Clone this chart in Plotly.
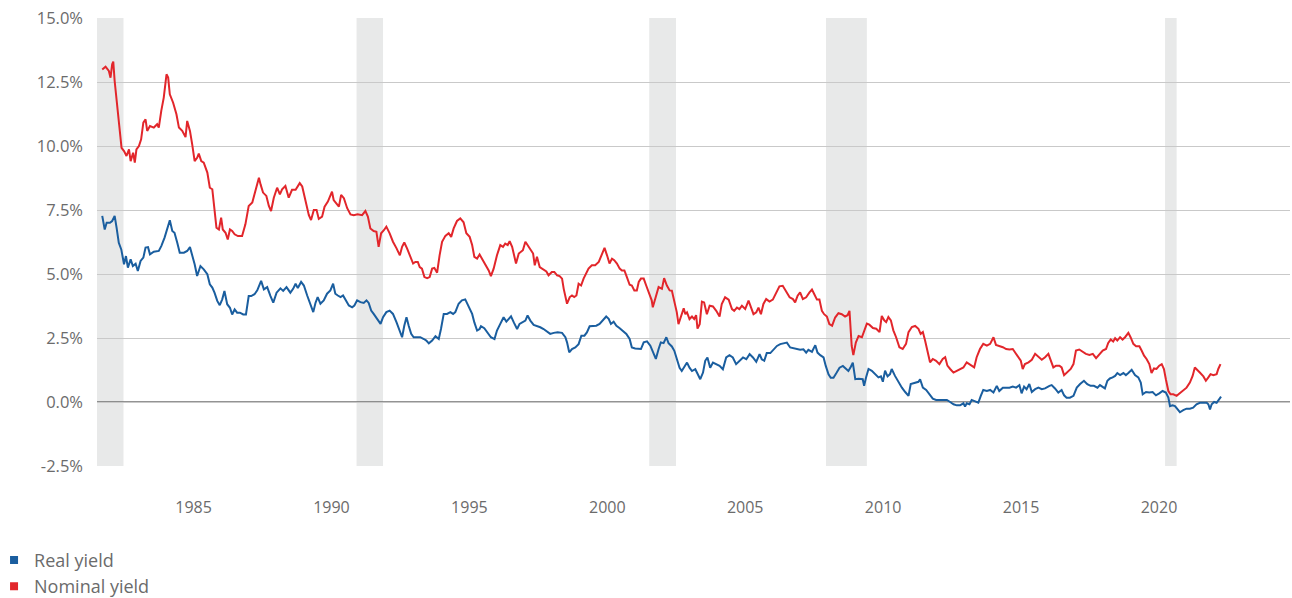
import plotly.graph_objects as go

# ---------------- data (decimal years, % yields) ----------------
real_years = [
    1981.69, 1981.78, 1981.85, 1981.97, 1982.05, 1982.14, 1982.21, 1982.29, 1982.38, 1982.48,
    1982.55, 1982.62, 1982.72, 1982.80, 1982.90, 1982.98, 1983.08, 1983.18, 1983.26, 1983.35,
    1983.42, 1983.56, 1983.74, 1983.83, 1983.95, 1984.05, 1984.14, 1984.23, 1984.31, 1984.41,
    1984.50, 1984.65, 1984.77, 1984.87, 1984.95, 1985.04, 1985.13, 1985.25, 1985.37, 1985.50,
    1985.59, 1985.68, 1985.76, 1985.86, 1985.95, 1986.04, 1986.12, 1986.22, 1986.32, 1986.40,
    1986.49, 1986.58, 1986.68, 1986.80, 1986.90, 1987.00, 1987.09, 1987.21, 1987.31, 1987.45,
    1987.55, 1987.67, 1987.79, 1987.89, 1988.01, 1988.15, 1988.25, 1988.37, 1988.51,
    1988.61, 1988.70, 1988.78, 1988.90, 1989.00, 1989.12, 1989.24, 1989.34, 1989.42, 1989.50,
    1989.60, 1989.72, 1989.84, 1989.96, 1990.06, 1990.14, 1990.23, 1990.33, 1990.42, 1990.51,
    1990.63, 1990.75, 1990.83, 1990.93, 1991.05, 1991.17, 1991.27, 1991.35, 1991.44, 1991.53,
    1991.65, 1991.78, 1991.87, 1991.99, 1992.11, 1992.23, 1992.36, 1992.48, 1992.56, 1992.64,
    1992.72, 1992.80, 1992.89, 1992.98, 1993.10, 1993.22, 1993.35, 1993.44, 1993.53, 1993.65,
    1993.77, 1993.89, 1993.97, 1994.07, 1994.19, 1994.31, 1994.41, 1994.49, 1994.61, 1994.73,
    1994.85, 1994.98, 1995.10, 1995.18, 1995.28, 1995.37,
    1995.42, 1995.54, 1995.66, 1995.78, 1995.91, 1996.00, 1996.12, 1996.24, 1996.34, 1996.42,
    1996.51, 1996.61, 1996.73, 1996.82, 1996.94, 1997.03, 1997.11, 1997.21, 1997.33, 1997.45,
    1997.57, 1997.69, 1997.81, 1997.93, 1998.06, 1998.20, 1998.36, 1998.48, 1998.54, 1998.62,
    1998.72, 1998.84, 1998.96, 1999.06, 1999.17, 1999.26, 1999.36, 1999.48, 1999.60, 1999.72,
    1999.84, 1999.96, 2000.05, 2000.13, 2000.23, 2000.33, 2000.45, 2000.57, 2000.69, 2000.81,
    2000.89, 2001.01, 2001.13, 2001.22, 2001.32, 2001.44, 2001.56, 2001.68, 2001.76, 2001.86,
    2001.94, 2002.04, 2002.14, 2002.22,
    2002.34, 2002.43, 2002.52, 2002.62, 2002.70, 2002.79, 2002.89, 2002.98, 2003.07, 2003.19,
    2003.27, 2003.37, 2003.47, 2003.55, 2003.63, 2003.73, 2003.83, 2003.95, 2004.07, 2004.19,
    2004.31, 2004.43, 2004.55, 2004.67, 2004.79, 2004.92, 2005.04, 2005.16, 2005.28, 2005.40,
    2005.52, 2005.60, 2005.69, 2005.78, 2005.91, 2006.03, 2006.15, 2006.27, 2006.39, 2006.51,
    2006.63, 2006.75, 2006.87, 2006.99, 2007.11, 2007.21, 2007.29, 2007.42, 2007.54, 2007.62,
    2007.72, 2007.84, 2007.92, 2008.02, 2008.10, 2008.20, 2008.30, 2008.42, 2008.54, 2008.66,
    2008.74, 2008.83, 2008.90, 2008.99, 2009.11,
    2009.26, 2009.31, 2009.38, 2009.47, 2009.59, 2009.71, 2009.83, 2009.92, 2009.99, 2010.07,
    2010.16, 2010.25, 2010.31, 2010.43, 2010.56, 2010.68, 2010.80, 2010.92, 2011.00, 2011.16,
    2011.28, 2011.34, 2011.44, 2011.56, 2011.68, 2011.80, 2011.92, 2012.04, 2012.19, 2012.31,
    2012.43, 2012.55, 2012.67, 2012.79, 2012.91, 2012.97, 2013.03, 2013.13, 2013.21, 2013.33,
    2013.45, 2013.54, 2013.63, 2013.76, 2013.88, 2014.00, 2014.12, 2014.21, 2014.34, 2014.46,
    2014.58, 2014.70, 2014.82, 2014.94, 2015.02, 2015.11, 2015.20, 2015.30, 2015.39, 2015.51,
    2015.63, 2015.75, 2015.87, 2016.03,
    2016.11, 2016.23, 2016.35, 2016.47, 2016.56, 2016.65, 2016.77, 2016.90, 2017.02, 2017.14,
    2017.28, 2017.40, 2017.52, 2017.64, 2017.77, 2017.86, 2017.96, 2018.04, 2018.13, 2018.22,
    2018.32, 2018.41, 2018.49, 2018.59, 2018.71, 2018.80, 2018.89, 2019.01, 2019.13, 2019.25,
    2019.34, 2019.41, 2019.53, 2019.65, 2019.77, 2019.89, 2020.01, 2020.13, 2020.25, 2020.34,
    2020.40, 2020.49, 2020.58, 2020.66, 2020.76, 2020.88, 2021.00, 2021.12, 2021.24, 2021.36,
    2021.48, 2021.61, 2021.73, 2021.79, 2021.85, 2021.91, 2022.00, 2022.09, 2022.17, 2022.25,
]
real_yield = [
    7.27, 6.74, 7.00, 7.00, 7.07, 7.27, 6.81, 6.22, 5.96, 5.38,
    5.70, 5.25, 5.57, 5.31, 5.40, 5.12, 5.51, 5.64, 6.03, 6.05,
    5.77, 5.87, 5.90, 6.09, 6.42, 6.81, 7.10, 6.68, 6.61, 6.22,
    5.83, 5.83, 5.90, 6.05, 5.77, 5.38, 4.92, 5.31, 5.18, 4.99,
    4.60, 4.47, 4.27, 3.95, 3.78, 4.01, 4.34, 3.82, 3.68, 3.42,
    3.62, 3.49, 3.49, 3.42, 3.42, 4.14, 4.14, 4.21, 4.36, 4.73,
    4.40, 4.49, 4.14, 3.88, 4.27, 4.44, 4.34, 4.49, 4.27,
    4.42, 4.62, 4.45, 4.69, 4.55, 4.16, 3.77, 3.51, 3.87, 4.10,
    3.84, 3.97, 4.23, 4.36, 4.62, 4.23, 4.16, 4.10, 4.16, 3.97,
    3.77, 3.70, 3.77, 3.97, 3.90, 3.87, 3.97, 3.87, 3.57, 3.44,
    3.25, 3.05, 3.31, 3.51, 3.57, 3.44, 3.11, 2.79, 2.53, 2.98,
    3.31, 2.98, 2.66, 2.53, 2.53, 2.53, 2.46, 2.40, 2.29, 2.40,
    2.57, 2.46, 2.85, 3.44, 3.44, 3.51, 3.44, 3.51, 3.84, 3.97,
    4.01, 3.71, 3.44, 3.11, 2.79, 2.85,
    2.96, 2.88, 2.72, 2.53, 2.46, 2.79, 3.05, 3.31, 3.14, 3.25,
    3.35, 3.11, 2.85, 3.05, 3.11, 3.18, 3.38, 3.18, 3.01, 2.98,
    2.92, 2.85, 2.75, 2.66, 2.70, 2.72, 2.70, 2.53, 2.33, 1.94,
    2.07, 2.13, 2.26, 2.59, 2.59, 2.72, 2.96, 2.98, 2.98, 3.05,
    3.18, 3.34, 3.25, 3.05, 3.14, 2.98, 2.88, 2.75, 2.66, 2.46,
    2.13, 2.09, 2.09, 2.07, 2.33, 2.37, 2.20, 1.87, 1.68, 2.07,
    2.33, 2.30, 2.53, 2.30,
    2.17, 2.00, 1.67, 1.34, 1.21, 1.38, 1.54, 1.34, 1.21, 1.28,
    1.08, 0.89, 1.15, 1.61, 1.74, 1.34, 1.54, 1.48, 1.41, 1.28,
    1.74, 1.83, 1.74, 1.48, 1.61, 1.74, 1.67, 1.87, 1.74, 1.57,
    1.87, 1.67, 1.61, 1.91, 1.91, 2.04, 2.19, 2.26, 2.30, 2.32,
    2.13, 2.09, 2.06, 2.04, 2.06, 1.93, 2.04, 1.96, 2.22, 1.93,
    1.83, 1.74, 1.41, 1.08, 0.95, 0.95, 1.12, 1.34, 1.41, 1.31,
    1.21, 1.38, 1.54, 0.89, 0.91,
    0.89, 0.63, 0.96, 1.29, 1.22, 1.09, 0.96, 1.00, 0.79, 1.22,
    1.00, 1.09, 1.29, 1.02, 0.76, 0.56, 0.39, 0.24, 0.70, 0.76,
    0.79, 0.89, 0.56, 0.47, 0.30, 0.13, 0.08, 0.08, 0.10, 0.08,
    0.00, -0.09, -0.13, -0.13, -0.05, -0.18, -0.05, -0.09, 0.08, 0.04,
    -0.03, 0.24, 0.47, 0.43, 0.47, 0.37, 0.63, 0.43, 0.56, 0.56,
    0.56, 0.60, 0.56, 0.66, 0.34, 0.60, 0.50, 0.70, 0.39, 0.50,
    0.56, 0.50, 0.53, 0.63,
    0.66, 0.53, 0.37, 0.47, 0.26, 0.17, 0.17, 0.24, 0.56, 0.70,
    0.83, 0.70, 0.63, 0.63, 0.56, 0.66, 0.60, 0.53, 0.83, 0.92,
    0.96, 1.02, 1.13, 1.05, 1.13, 1.05, 1.13, 1.26, 1.05, 0.96,
    0.76, 0.30, 0.39, 0.37, 0.39, 0.26, 0.34, 0.43, 0.37, 0.17,
    -0.16, -0.13, -0.16, -0.29, -0.40, -0.32, -0.26, -0.26, -0.22, -0.09,
    -0.03, -0.03, -0.03, -0.09, -0.29, -0.09, 0.00, -0.03, 0.10, 0.21,
]

nominal_years = [
    1981.69, 1981.81, 1981.93, 1981.99, 1982.05, 1982.09, 1982.14, 1982.23, 1982.33, 1982.39,
    1982.48, 1982.57, 1982.66, 1982.72, 1982.81, 1982.87, 1982.93, 1983.02, 1983.10, 1983.18,
    1983.26, 1983.32, 1983.42, 1983.56, 1983.68, 1983.74, 1983.83, 1983.92, 1984.02, 1984.08,
    1984.14, 1984.26, 1984.38, 1984.47, 1984.59, 1984.71, 1984.77, 1984.87, 1984.95, 1985.04,
    1985.13, 1985.19, 1985.28, 1985.37, 1985.50, 1985.59, 1985.68, 1985.74, 1985.83, 1985.92,
    1986.00, 1986.06, 1986.16, 1986.24, 1986.32, 1986.40, 1986.49, 1986.61, 1986.76, 1986.88,
    1987.00, 1987.13, 1987.25, 1987.37, 1987.43, 1987.52, 1987.64, 1987.73, 1987.81, 1987.91,
    1988.03, 1988.13, 1988.21, 1988.33, 1988.45,
    1988.57, 1988.70, 1988.76, 1988.85, 1988.94, 1989.06, 1989.18, 1989.26, 1989.36, 1989.46,
    1989.54, 1989.66, 1989.75, 1989.87, 1989.96, 1990.02, 1990.08, 1990.18, 1990.27, 1990.35,
    1990.45, 1990.57, 1990.69, 1990.81, 1990.95, 1991.11, 1991.23, 1991.32, 1991.41, 1991.53,
    1991.63, 1991.71, 1991.80, 1991.90, 1991.99, 1992.11, 1992.23, 1992.36, 1992.48, 1992.56,
    1992.64, 1992.74, 1992.86, 1992.96, 1993.04, 1993.13, 1993.20, 1993.28, 1993.37, 1993.47,
    1993.56, 1993.65, 1993.73, 1993.83, 1993.92, 1994.01, 1994.13, 1994.25, 1994.34, 1994.43,
    1994.55, 1994.67, 1994.79, 1994.89, 1995.01, 1995.10, 1995.18, 1995.28, 1995.37,
    1995.46, 1995.58, 1995.70, 1995.78, 1995.88, 1996.00, 1996.12, 1996.22, 1996.30, 1996.39,
    1996.46, 1996.55, 1996.63, 1996.69, 1996.79, 1996.87, 1996.94, 1997.03, 1997.11, 1997.21,
    1997.31, 1997.37, 1997.45, 1997.55, 1997.67, 1997.79, 1997.87, 1997.99, 1998.08, 1998.18,
    1998.27, 1998.36, 1998.42, 1998.48, 1998.54, 1998.64, 1998.72, 1998.80, 1998.88, 1998.96,
    1999.05, 1999.14, 1999.24, 1999.32, 1999.44, 1999.56, 1999.69, 1999.81, 1999.90, 1999.99,
    2000.08, 2000.17, 2000.25, 2000.35, 2000.45, 2000.53, 2000.62, 2000.71, 2000.81, 2000.89,
    2000.98, 2001.07, 2001.14, 2001.22, 2001.32, 2001.41, 2001.53, 2001.61, 2001.65, 2001.74,
    2001.86, 2001.98, 2002.06, 2002.16, 2002.26,
    2002.34, 2002.43, 2002.52, 2002.58, 2002.67, 2002.77, 2002.83, 2002.89, 2002.98, 2003.07,
    2003.15, 2003.22, 2003.27, 2003.35, 2003.43, 2003.51, 2003.61, 2003.71, 2003.83, 2003.95,
    2004.07, 2004.15, 2004.27, 2004.40, 2004.52, 2004.60, 2004.70, 2004.79, 2004.88, 2005.00,
    2005.12, 2005.20, 2005.30, 2005.40, 2005.48, 2005.57, 2005.66, 2005.76, 2005.88, 2006.00,
    2006.12, 2006.24, 2006.36, 2006.49, 2006.61, 2006.73, 2006.81, 2006.90, 2006.99, 2007.09,
    2007.21, 2007.33, 2007.42, 2007.50, 2007.60, 2007.69, 2007.78, 2007.86, 2007.96, 2008.05,
    2008.15, 2008.26, 2008.38, 2008.50, 2008.62, 2008.71, 2008.78, 2008.86, 2008.92, 2009.01,
    2009.11,
    2009.23, 2009.31, 2009.41, 2009.50, 2009.63, 2009.75, 2009.87, 2009.95, 2010.04, 2010.11,
    2010.19, 2010.28, 2010.37, 2010.47, 2010.59, 2010.71, 2010.83, 2010.92, 2011.04, 2011.16,
    2011.28, 2011.36, 2011.44, 2011.52, 2011.61, 2011.70, 2011.80, 2011.92, 2012.04, 2012.16,
    2012.25, 2012.33, 2012.43, 2012.55, 2012.67, 2012.79, 2012.91, 2013.03, 2013.13, 2013.21,
    2013.30, 2013.39, 2013.51, 2013.63, 2013.76, 2013.88, 2014.00, 2014.09, 2014.21, 2014.34,
    2014.46, 2014.58, 2014.70, 2014.78, 2014.90, 2014.99, 2015.06, 2015.14, 2015.27, 2015.39,
    2015.51, 2015.63, 2015.75, 2015.87, 2015.99,
    2016.17, 2016.27, 2016.39, 2016.47, 2016.56, 2016.65, 2016.80, 2016.90, 2016.99, 2017.11,
    2017.23, 2017.35, 2017.48, 2017.60, 2017.72, 2017.84, 2017.96, 2018.08, 2018.16, 2018.25,
    2018.34, 2018.41, 2018.49, 2018.59, 2018.68, 2018.77, 2018.89, 2018.97, 2019.07, 2019.17,
    2019.29, 2019.37, 2019.46, 2019.55, 2019.65, 2019.73, 2019.82, 2019.91, 2020.01, 2020.10,
    2020.18, 2020.25, 2020.34, 2020.42, 2020.52, 2020.64, 2020.76, 2020.88, 2021.00, 2021.12,
    2021.22, 2021.30, 2021.39, 2021.48, 2021.61, 2021.70, 2021.79, 2021.87, 2021.97, 2022.09,
    2022.15, 2022.23,
]
nominal_yield = [
    12.99, 13.10, 12.93, 12.67, 13.19, 13.30, 12.54, 11.50, 10.33, 9.93,
    9.80, 9.61, 9.87, 9.41, 9.74, 9.35, 9.87, 10.00, 10.26, 10.91,
    11.04, 10.59, 10.78, 10.72, 10.85, 10.72, 11.37, 11.89, 12.80, 12.67,
    12.02, 11.69, 11.24, 10.72, 10.59, 10.35, 10.98, 10.59, 10.07, 9.41,
    9.54, 9.70, 9.41, 9.35, 8.96, 8.37, 8.31, 7.72, 6.81, 6.74,
    7.20, 6.74, 6.61, 6.35, 6.74, 6.68, 6.55, 6.48, 6.48, 6.94,
    7.66, 7.79, 8.24, 8.76, 8.50, 8.18, 8.05, 7.66, 7.46, 7.98,
    8.37, 8.11, 8.31, 8.44, 7.98,
    8.29, 8.29, 8.42, 8.55, 8.42, 7.83, 7.30, 7.11, 7.50, 7.50,
    7.15, 7.24, 7.63, 7.83, 8.09, 8.22, 7.89, 7.76, 7.63, 8.09,
    7.96, 7.57, 7.33, 7.30, 7.33, 7.30, 7.46, 7.24, 6.78, 6.68,
    6.65, 6.06, 6.59, 6.71, 6.85, 6.59, 6.26, 6.00, 5.73, 6.06,
    6.23, 6.00, 5.67, 5.41, 5.47, 5.47, 5.27, 5.21, 4.88, 4.84,
    4.88, 5.21, 5.24, 5.05, 5.73, 6.26, 6.49, 6.59, 6.45, 6.78,
    7.07, 7.17, 7.02, 6.59, 6.45, 6.13, 5.67, 5.60, 5.76,
    5.60, 5.41, 5.14, 4.92, 5.21, 5.73, 6.13, 6.06, 6.19, 6.13,
    6.28, 6.06, 5.67, 5.41, 5.80, 5.89, 5.93, 6.26, 6.13, 6.00,
    5.80, 5.34, 5.67, 5.27, 5.17, 5.10, 4.95, 5.08, 5.08, 4.95,
    4.92, 4.82, 4.42, 4.16, 3.84, 4.10, 4.16, 4.10, 4.16, 4.62,
    4.55, 4.82, 5.01, 5.21, 5.34, 5.34, 5.47, 5.80, 6.02, 5.73,
    5.41, 5.60, 5.54, 5.41, 5.21, 5.14, 5.14, 4.88, 4.58, 4.55,
    4.36, 4.36, 4.69, 4.82, 4.82, 4.55, 4.23, 3.97, 3.70, 4.03,
    4.49, 4.42, 4.84, 4.55, 4.36,
    4.35, 3.96, 3.50, 3.04, 3.37, 3.66, 3.43, 3.50, 3.24, 3.34,
    3.24, 3.39, 2.87, 3.04, 3.92, 3.89, 3.43, 3.76, 3.73, 3.56,
    3.34, 3.83, 4.09, 4.00, 3.63, 3.56, 3.69, 3.63, 3.76, 3.63,
    3.96, 3.69, 3.43, 3.50, 3.69, 3.43, 3.83, 4.02, 3.92, 4.00,
    4.28, 4.52, 4.54, 4.28, 4.09, 4.02, 3.89, 4.15, 4.28, 4.02,
    4.09, 4.28, 4.39, 4.22, 4.00, 4.00, 3.56, 3.43, 3.34, 3.04,
    2.98, 3.30, 3.47, 3.43, 3.34, 3.39, 3.56, 2.19, 1.83, 2.32,
    2.58,
    2.53, 2.80, 3.06, 3.02, 2.89, 2.86, 2.73, 3.36, 3.19, 3.12,
    3.32, 3.19, 2.80, 2.53, 2.14, 2.07, 2.27, 2.73, 2.93, 2.97,
    2.86, 2.66, 2.73, 2.40, 1.94, 1.55, 1.68, 1.61, 1.48, 1.68,
    1.75, 1.42, 1.29, 1.15, 1.22, 1.29, 1.35, 1.55, 1.48, 1.42,
    1.35, 1.75, 2.07, 2.27, 2.20, 2.27, 2.53, 2.23, 2.20, 2.14,
    2.07, 2.05, 2.07, 1.94, 1.75, 1.61, 1.29, 1.48, 1.55, 1.65,
    1.88, 1.75, 1.65, 1.75, 1.88,
    1.35, 1.42, 1.42, 1.35, 1.05, 1.15, 1.29, 1.48, 2.01, 2.05,
    1.97, 1.88, 1.84, 1.88, 1.71, 1.88, 2.01, 2.07, 2.31, 2.44,
    2.36, 2.49, 2.40, 2.53, 2.44, 2.53, 2.70, 2.53, 2.27, 2.18,
    2.18, 2.01, 1.81, 1.68, 1.48, 1.13, 1.31, 1.29, 1.42, 1.48,
    1.29, 0.89, 0.43, 0.30, 0.30, 0.24, 0.34, 0.43, 0.56, 0.76,
    1.02, 1.35, 1.26, 1.15, 1.00, 0.83, 0.96, 1.09, 1.05, 1.09,
    1.29, 1.48,
]

# recession periods (decimal years): start, end
recession_starts = [1981.50, 1990.91, 2001.52, 2007.93, 2020.22]
recession_ends = [1982.46, 1991.87, 2002.49, 2009.41, 2020.64]

x_tick_years = [1985, 1990, 1995, 2000, 2005, 2010, 2015, 2020]
y_tick_values = [-2.5, 0, 2.5, 5, 7.5, 10, 12.5, 15]
y_tick_labels = ["-2.5%", "0.0%", "2.5%", "5.0%", "7.5%", "10.0%", "12.5%", "15.0%"]

series_names = ["Real yield", "Nominal yield"]
BLUE = "#1a5e9f"
RED = "#e2262b"
TEXT = "#6b6b6b"
FONT = "Open Sans, Noto Sans, sans-serif"

fig = go.Figure()

fig.add_trace(go.Scatter(
    x=real_years, y=real_yield, mode="lines", name=series_names[0],
    line=dict(color=BLUE, width=2), showlegend=False, hoverinfo="skip",
))
fig.add_trace(go.Scatter(
    x=nominal_years, y=nominal_yield, mode="lines", name=series_names[1],
    line=dict(color=RED, width=2), showlegend=False, hoverinfo="skip",
))
# legend entries with square markers
for name, col in zip(series_names, [BLUE, RED]):
    fig.add_trace(go.Scatter(
        x=[None], y=[None], mode="markers", name=name,
        marker=dict(symbol="square", size=8, color=col),
        showlegend=True,
    ))

shapes = []
for s, e in zip(recession_starts, recession_ends):
    shapes.append(dict(
        type="rect", xref="x", yref="paper", x0=s, x1=e, y0=0, y1=1,
        fillcolor="#e8e9e9", line=dict(width=0), layer="between",
    ))
shapes.append(dict(
    type="line", xref="paper", yref="y", x0=0, x1=1, y0=0, y1=0,
    line=dict(color="#6f6f6f", width=1.5), layer="between",
))

fig.update_layout(
    width=1292, height=598,
    margin=dict(l=97, r=2, t=18, b=132, autoexpand=False),
    paper_bgcolor="white", plot_bgcolor="white",
    font=dict(family=FONT, color=TEXT, size=14),
    shapes=shapes,
    showlegend=True,
    legend=dict(
        xref="paper", yref="paper", x=-0.0863, y=-0.169,
        xanchor="left", yanchor="top",
        orientation="v", font=dict(size=18, color=TEXT),
        itemwidth=30, tracegroupgap=0, bgcolor="rgba(0,0,0,0)",
    ),
)
fig.update_xaxes(
    range=[1981.5, 2024.75], showgrid=False, zeroline=False, showline=False,
    tickmode="array", tickvals=x_tick_years, ticktext=[str(v) for v in x_tick_years],
    ticks="", ticklabelstandoff=30, tickfont=dict(size=16, color=TEXT),
)
fig.update_yaxes(
    range=[-2.5, 15], showgrid=True, gridcolor="#c9c9c9", gridwidth=1,
    zeroline=False, showline=False,
    tickmode="array", tickvals=y_tick_values, ticktext=y_tick_labels,
    ticks="", ticklabelstandoff=13, tickfont=dict(size=16.5, color=TEXT),
)

fig.write_html(
    "out.html",
    config={"displayModeBar": False},
    post_script="document.body.style.margin='0';document.body.style.overflow='hidden';",
)
